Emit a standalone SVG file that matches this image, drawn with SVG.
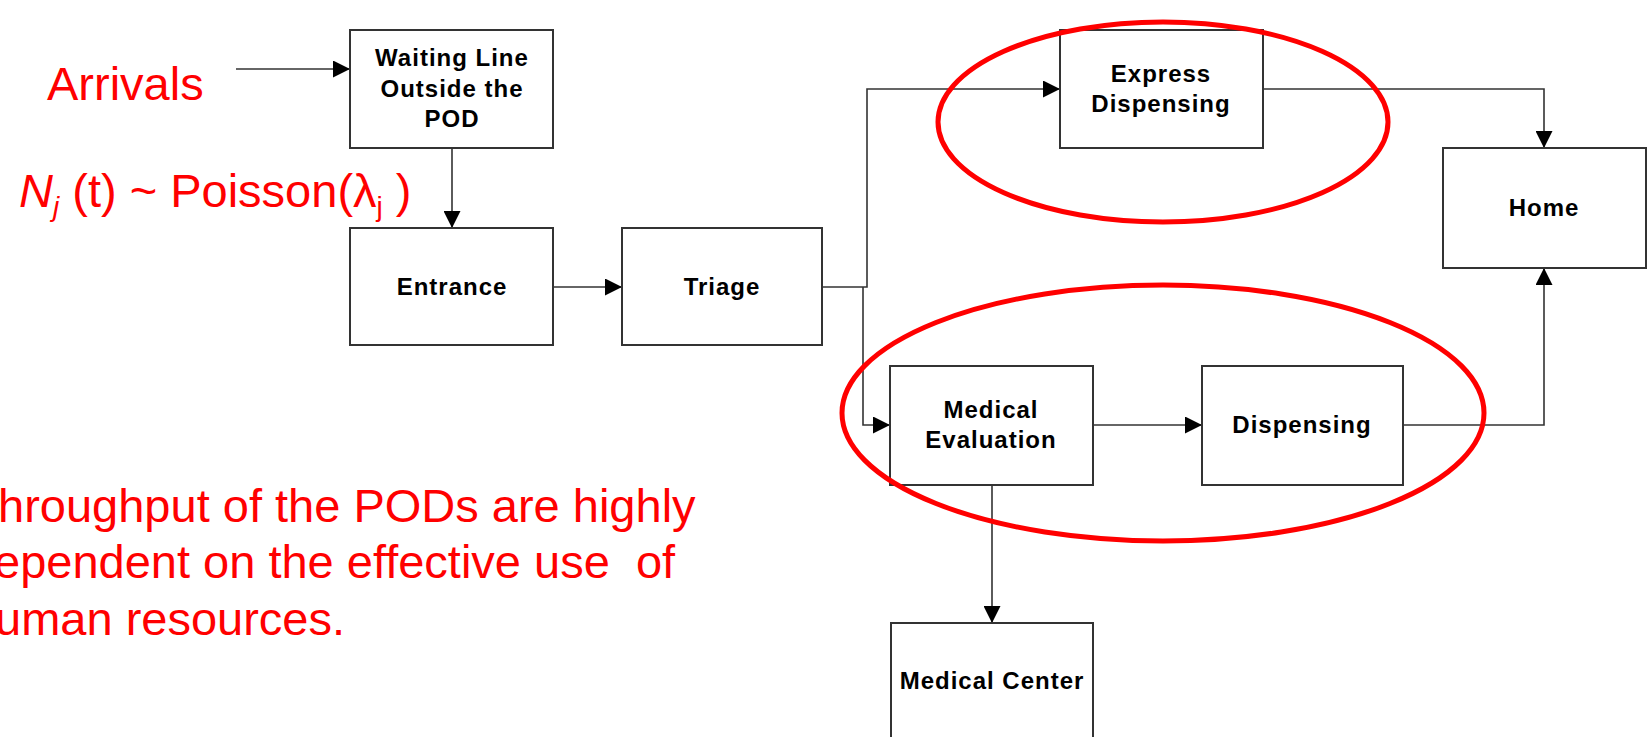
<svg xmlns="http://www.w3.org/2000/svg" width="1647" height="737" viewBox="0 0 1647 737">
<defs>
<style>
.box{fill:#fff;stroke:#333;stroke-width:2}
.lbl{font-family:"Liberation Sans",Arial,sans-serif;font-weight:bold;font-size:24px;letter-spacing:1px;fill:#000;text-anchor:middle}
.con{fill:none;stroke:#333;stroke-width:1.6}
.red{font-family:"Liberation Sans",Arial,sans-serif;font-size:47px;fill:#ff0000}
.ell{fill:none;stroke:#ff0000;stroke-width:5}
</style>
<marker id="arr" markerUnits="userSpaceOnUse" markerWidth="17" markerHeight="17" viewBox="0 0 17 17" refX="17" refY="8.5" orient="auto">
<path d="M0,0 L17,8.5 L0,17 z" fill="#000"/>
</marker>
</defs>
<rect width="1647" height="737" fill="#fff"/>

<g id="connectors">
<path class="con" d="M236,69 H350" marker-end="url(#arr)"/>
<path class="con" d="M452,148 V228" marker-end="url(#arr)"/>
<path class="con" d="M553,287 H622" marker-end="url(#arr)"/>
<path class="con" d="M822,287 H867 V89 H1060" marker-end="url(#arr)"/>
<path class="con" d="M863,287 V425 H890" marker-end="url(#arr)"/>
<path class="con" d="M1093,425 H1202" marker-end="url(#arr)"/>
<path class="con" d="M1403,425 H1544 V268" marker-end="url(#arr)"/>
<path class="con" d="M1263,89 H1544 V148" marker-end="url(#arr)"/>
<path class="con" d="M992,485 V623" marker-end="url(#arr)"/>
</g>

<g id="waiting">
<rect class="box" x="350" y="30" width="203" height="118"/>
<text class="lbl" x="452" y="66">Waiting Line</text>
<text class="lbl" x="452" y="97">Outside the</text>
<text class="lbl" x="452" y="127">POD</text>
</g>
<g id="entrance">
<rect class="box" x="350" y="228" width="203" height="117"/>
<text class="lbl" x="452" y="295">Entrance</text>
</g>
<g id="triage">
<rect class="box" x="622" y="228" width="200" height="117"/>
<text class="lbl" x="722" y="295">Triage</text>
</g>
<g id="express">
<rect class="box" x="1060" y="30" width="203" height="118"/>
<text class="lbl" x="1161" y="82">Express</text>
<text class="lbl" x="1161" y="112">Dispensing</text>
</g>
<g id="home">
<rect class="box" x="1443" y="148" width="203" height="120"/>
<text class="lbl" x="1544" y="216">Home</text>
</g>
<g id="medeval">
<rect class="box" x="890" y="366" width="203" height="119"/>
<text class="lbl" x="991" y="418">Medical</text>
<text class="lbl" x="991" y="448">Evaluation</text>
</g>
<g id="dispensing">
<rect class="box" x="1202" y="366" width="201" height="119"/>
<text class="lbl" x="1302" y="433">Dispensing</text>
</g>
<g id="medcenter">
<rect class="box" x="891" y="623" width="202" height="119"/>
<text class="lbl" x="992" y="689">Medical Center</text>
</g>

<g id="annotations">
<text class="red" x="47" y="100">Arrivals</text>
<text class="red" x="19" y="207"><tspan font-style="italic">N</tspan><tspan font-style="italic" font-size="28" dy="9">j</tspan><tspan dy="-9"> (t) ~ Poisson(λ</tspan><tspan font-size="28" dy="9">j</tspan><tspan dy="-9"> )</tspan></text>
<text class="red" x="-2" y="522">hroughput of the PODs are highly</text>
<text class="red" x="-6" y="578" xml:space="preserve">ependent on the effective use  of</text>
<text class="red" x="-5" y="635">uman resources.</text>
<ellipse class="ell" cx="1163" cy="122" rx="225" ry="100"/>
<ellipse class="ell" cx="1163" cy="413" rx="321" ry="128"/>
</g>
</svg>
